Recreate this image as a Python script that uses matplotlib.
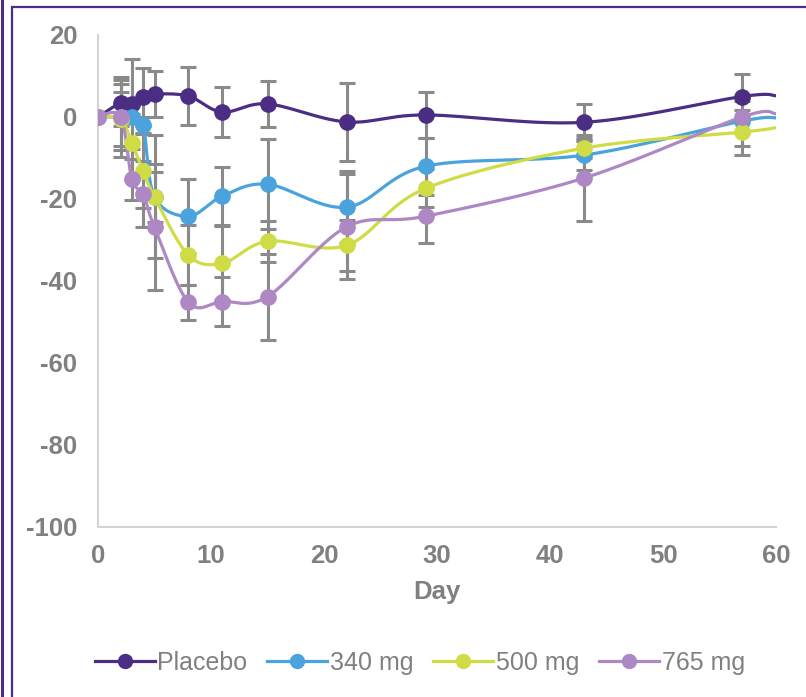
import numpy as np
import matplotlib.pyplot as plt
from matplotlib.lines import Line2D
from matplotlib.patches import Rectangle

plt.rcParams['axes.unicode_minus'] = False

# data
days = [0, 2, 3, 4, 5, 8, 11, 15, 22, 29, 43, 57]
series_names = ['Placebo', '340 mg', '500 mg', '765 mg']
placebo = [0, 3.4, 3.2, 4.9, 5.6, 5.1, 1.2, 3.2, -1.2, 0.5, -1.3, 5.0]
mg340 = [0, 0, 0, -2.0, -19.5, -24.2, -19.3, -16.4, -22.0, -12.0, -9.3, -1.0]
mg500 = [0, -0.5, -6.4, -13.2, -19.5, -33.7, -35.7, -30.3, -31.3, -17.4, -7.6, -3.7]
mg765 = [0, 0, -15.2, -18.8, -26.9, -45.2, -45.0, -43.8, -26.8, -24.2, -14.9, 0.0]
# where each curve meets the right edge (day 60), no marker there
end_day = 60
end_values = [5.2, -0.2, -2.6, 0.8]

placebo_err = [0, 5.6, 11.0, 7.0, 5.5, 7.0, 6.0, 5.7, 9.5, 5.6, 4.5, 5.5]
mg340_err = [0, 8.0, 0.8, 2.0, 6.0, 9.0, 7.0, 11.0, 8.8, 7.0, 3.7, 6.0]
mg500_err = [0, 6.5, 9.0, 9.0, 15.0, 7.3, 9.0, 5.0, 6.3, 4.6, 2.5, 5.5]
mg765_err = [0, 9.8, 5.0, 8.0, 15.4, 4.2, 6.0, 10.5, 12.8, 6.6, 10.4, 4.0]

colors = ['#4b2e83', '#4aa3dc', '#cfdc45', '#ae88c4']
grey = '#808080'
font = ['Liberation Sans', 'DejaVu Sans']


def smooth(xs, ys, sx=11.3, sy=4.09, n=30):
    # Excel style smoothed line: bezier with control points from neighbours
    p = np.column_stack([np.asarray(xs, float) * sx, np.asarray(ys, float) * sy])
    out = [p[0]]
    for i in range(len(p) - 1):
        p0 = p[i - 1] if i > 0 else p[i]
        p3 = p[i + 2] if i + 2 < len(p) else p[i + 1]
        c1 = p[i] + (p[i + 1] - p0) / 6.0
        c2 = p[i + 1] - (p3 - p[i]) / 6.0
        t = np.linspace(0, 1, n)[1:, None]
        seg = ((1 - t) ** 3) * p[i] + 3 * ((1 - t) ** 2) * t * c1 \
            + 3 * (1 - t) * t ** 2 * c2 + t ** 3 * p[i + 1]
        out.extend(seg)
    out = np.array(out)
    return out[:, 0] / sx, out[:, 1] / sy


fig = plt.figure(figsize=(8.06, 6.97), dpi=100)
ax = fig.add_axes([98 / 806, 1 - 527 / 697, 678 / 806, 492 / 697])

all_vals = [placebo, mg340, mg500, mg765]
all_errs = [placebo_err, mg340_err, mg500_err, mg765_err]

for vals, errs in zip(all_vals, all_errs):
    ax.errorbar(days, vals, yerr=errs, fmt='none', ecolor='#8a8a8a',
                elinewidth=2.2, capsize=6, capthick=2.2, zorder=2)

for vals, end, color, name in zip(all_vals, end_values, colors, series_names):
    sx, sy = smooth(days + [end_day], vals + [end])
    ax.plot(sx, sy, color=color, lw=2.3, zorder=3, solid_capstyle='round')
    ax.plot(days, vals, 'o', color=color, ms=11, zorder=4, label=name)

ax.set_xlim(0, 60)
ax.set_ylim(-100, 20)
ax.set_xticks(range(0, 61, 10))
ax.set_yticks(range(-100, 21, 20))
for s in ['top', 'right']:
    ax.spines[s].set_visible(False)
for s in ['left', 'bottom']:
    ax.spines[s].set_color('#d4d4d4')
    ax.spines[s].set_linewidth(1.5)
ax.tick_params(length=0, labelsize=18.5, labelcolor=grey)
ax.tick_params(axis='y', pad=15)
ax.tick_params(axis='x', pad=12)
for lab in ax.get_xticklabels() + ax.get_yticklabels():
    lab.set_fontweight('bold')
    lab.set_family(font)
ax.set_xlabel('Day', fontsize=18.5, fontweight='bold', color=grey,
              family=font, labelpad=9)

handles = [Line2D([], [], color=c, lw=2.3, marker='o', ms=10) for c in colors]
leg = fig.legend(handles, series_names, loc='center', bbox_to_anchor=(0.521, 0.049),
                 ncol=4, frameon=False, handlelength=2.4, handletextpad=0.1,
                 columnspacing=0.8, prop={'family': font, 'size': 18})
for t in leg.get_texts():
    t.set_color(grey)

# purple frame around the slide panel
fig.patches.append(Rectangle((12 / 806, -0.1), 1.2, 1.1 - 7 / 697, transform=fig.transFigure,
                             fill=False, edgecolor='#4b2e83', lw=1.6))
fig.lines.append(Line2D([1.5 / 806, 1.5 / 806], [0, 1], transform=fig.transFigure,
                        color='#4b2e83', lw=2.2))

fig.savefig('out.png', dpi=100)
